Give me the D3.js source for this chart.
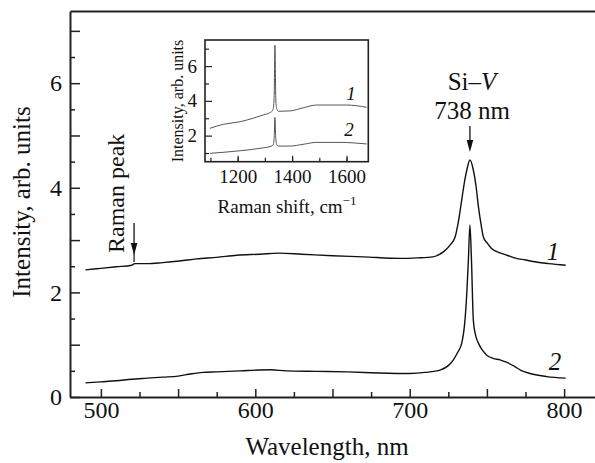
<!DOCTYPE html>
<html lang="en">
<head>
  <meta charset="UTF-8">
  <title>Si-V spectra</title>
  <script src="https://cdnjs.cloudflare.com/ajax/libs/d3/7.8.5/d3.min.js"></script>
  <style>
    body { margin: 0; background: #fff; }
    text { font-family: "Liberation Serif", "Times New Roman", serif; fill: #111; }
  </style>
</head>
<body>
  <script>
    // main spectra (PL)
    const wavelength1 = [490, 500, 510, 520, 522, 530, 540, 551, 562, 575, 588, 603, 615, 630, 650, 670, 694, 705, 715, 722, 726, 729.4, 731.5, 733.7, 735.5, 737, 739, 741.2, 743, 744.5, 746.2, 747.7, 750, 753, 758, 763, 769, 775, 780, 790, 801];
    const intensity1  = [2.43, 2.46, 2.49, 2.52, 2.55, 2.55, 2.57, 2.60, 2.64, 2.67, 2.71, 2.73, 2.75, 2.73, 2.70, 2.68, 2.65, 2.66, 2.68, 2.78, 2.90, 3.06, 3.35, 3.77, 4.12, 4.34, 4.53, 4.34, 4.02, 3.64, 3.30, 3.06, 2.95, 2.84, 2.76, 2.71, 2.65, 2.62, 2.59, 2.55, 2.52];

    const wavelength2 = [490, 500, 510, 520, 530, 540, 550, 558, 566, 575, 590, 610, 620, 640, 660, 680, 700, 710, 720, 725, 728.3, 731, 733.7, 735.8, 737, 738, 739, 740, 741.2, 742.5, 744.5, 747, 749.9, 754, 758.5, 763, 768.2, 772, 777.9, 788.7, 801];
    const intensity2  = [0.27, 0.29, 0.31, 0.34, 0.36, 0.38, 0.40, 0.44, 0.47, 0.48, 0.50, 0.52, 0.50, 0.49, 0.48, 0.46, 0.45, 0.47, 0.52, 0.60, 0.71, 0.85, 1.03, 1.47, 2.00, 2.62, 3.29, 2.62, 1.47, 1.20, 1.03, 0.90, 0.80, 0.74, 0.71, 0.66, 0.58, 0.51, 0.45, 0.39, 0.36];

    // inset (Raman)
    const ramanShift1 = [1098, 1147, 1209, 1257, 1294, 1319, 1327, 1331, 1334, 1337, 1340, 1343, 1350, 1392, 1441, 1490, 1539, 1600, 1674];
    const ramanInt1   = [2.42, 2.65, 2.80, 3.00, 3.19, 3.32, 3.42, 3.57, 4.20, 7.20, 4.20, 3.57, 3.40, 3.42, 3.60, 3.76, 3.76, 3.76, 3.63];
    const ramanShift2 = [1098, 1209, 1282, 1325, 1331, 1334.5, 1337, 1339.5, 1343, 1349, 1392, 1440, 1490, 1576, 1674];
    const ramanInt2   = [0.98, 1.13, 1.27, 1.40, 1.50, 2.00, 3.05, 2.00, 1.50, 1.40, 1.40, 1.50, 1.61, 1.61, 1.52];

    const xTicks = [500, 600, 700, 800];
    const yTicks = [0, 2, 4, 6];
    const insetXTicks = [1200, 1400, 1600];
    const insetYTicks = [2, 4, 6];

    const width = 595, height = 463;
    const svg = d3.select("body").append("svg")
      .attr("width", width)
      .attr("height", height);

    const x = d3.scaleLinear().domain([480, 820]).range([70, 595]);
    const y = d3.scaleLinear().domain([0, 7.38]).range([397, 11]);
    const fmt = d3.format("d");

    // main axes
    const gx = svg.append("g").attr("transform", "translate(0,397)");
    gx.call(d3.axisBottom(x).tickValues(d3.range(500, 821, 25).filter(v => v % 50)).tickSize(-5).tickSizeOuter(0).tickFormat(""));
    gx.call(g => g.select(".domain").remove());
    const gx2 = svg.append("g").attr("transform", "translate(0,397)");
    gx2.call(d3.axisBottom(x).tickValues(d3.range(500, 821, 50)).tickSize(-8).tickSizeOuter(0).tickPadding(4)
      .tickFormat(d => xTicks.includes(d) ? fmt(d) : ""));

    const gy = svg.append("g").attr("transform", "translate(70,0)");
    gy.call(d3.axisLeft(y).tickValues(d3.range(0.5, 7.4, 1)).tickSize(-5).tickSizeOuter(0).tickFormat(""));
    gy.call(g => g.select(".domain").remove());
    const gy2 = svg.append("g").attr("transform", "translate(70,0)");
    gy2.call(d3.axisLeft(y).tickValues(d3.range(0, 7.4, 1)).tickSize(-10).tickSizeOuter(0).tickPadding(8)
      .tickFormat(d => yTicks.includes(d) ? fmt(d) : ""));

    svg.append("g").attr("transform", "translate(0,11)")
      .call(d3.axisTop(x).tickValues([]).tickSizeOuter(0));

    svg.selectAll(".domain").attr("stroke", "#222").attr("stroke-width", 2);
    svg.selectAll(".tick line").attr("stroke", "#222").attr("stroke-width", 1.5);
    svg.selectAll(".tick text").attr("font-size", 24).attr("fill", "#111")
      .attr("font-family", "Liberation Serif, serif");

    // spectra
    const line = d3.line().x(d => x(d[0])).y(d => y(d[1])).curve(d3.curveMonotoneX);
    svg.append("path").datum(d3.zip(wavelength1, intensity1))
      .attr("d", line).attr("fill", "none").attr("stroke", "#111").attr("stroke-width", 1.4);
    svg.append("path").datum(d3.zip(wavelength2, intensity2))
      .attr("d", line).attr("fill", "none").attr("stroke", "#111").attr("stroke-width", 1.4);

    svg.append("text").attr("x", 553).attr("y", 260).attr("text-anchor", "middle")
      .attr("font-size", 25).attr("font-style", "italic").text("1");
    svg.append("text").attr("x", 555).attr("y", 370).attr("text-anchor", "middle")
      .attr("font-size", 25).attr("font-style", "italic").text("2");

    // axis titles
    svg.append("text").attr("x", 327).attr("y", 455).attr("text-anchor", "middle")
      .attr("font-size", 25).text("Wavelength, nm");
    svg.append("text").attr("transform", "translate(30,202) rotate(-90)").attr("text-anchor", "middle")
      .attr("font-size", 25).text("Intensity, arb. units");

    // annotations
    function arrow(xp, y0, y1) {
      svg.append("line").attr("x1", xp).attr("x2", xp).attr("y1", y0).attr("y2", y1 - 6)
        .attr("stroke", "#111").attr("stroke-width", 1.3);
      svg.append("path").attr("d", `M${xp},${y1} L${xp - 3.3},${y1 - 12} L${xp + 3.3},${y1 - 12} Z`)
        .attr("fill", "#111");
    }
    arrow(x(739), 126, 152);
    arrow(x(521.5), 223, 255);
    svg.append("line").attr("x1", x(521.5)).attr("x2", x(521.5)).attr("y1", 252).attr("y2", 262)
      .attr("stroke", "#111").attr("stroke-width", 1.2);

    const sv = svg.append("text").attr("x", 472).attr("y", 90).attr("text-anchor", "middle").attr("font-size", 25);
    sv.append("tspan").text("Si–");
    sv.append("tspan").attr("font-style", "italic").text("V");
    svg.append("text").attr("x", 472).attr("y", 119).attr("text-anchor", "middle")
      .attr("font-size", 25).text("738 nm");
    svg.append("text").attr("transform", "translate(124,253) rotate(-90)")
      .attr("font-size", 24).text("Raman peak");

    // inset
    const ix = d3.scaleLinear().domain([1080, 1680]).range([205, 368.3]);
    const iy = d3.scaleLinear().domain([0.5, 7.5]).range([161.7, 40]);
    const inset = svg.append("g");
    inset.append("rect").attr("x", 205).attr("y", 40).attr("width", 163.3).attr("height", 121.7)
      .attr("fill", "#fff").attr("stroke", "#222").attr("stroke-width", 1.6);

    const ixg = inset.append("g").attr("transform", "translate(0,161.7)");
    ixg.call(d3.axisBottom(ix).tickValues(d3.range(1100, 1700, 100)).tickSize(-4).tickSizeOuter(0).tickFormat(""));
    ixg.call(g => g.select(".domain").remove());
    const ixg2 = inset.append("g").attr("transform", "translate(0,161.7)");
    ixg2.call(d3.axisBottom(ix).tickValues(insetXTicks).tickSize(-6).tickSizeOuter(0).tickPadding(8).tickFormat(fmt));
    ixg2.call(g => g.select(".domain").remove());

    const iyg = inset.append("g").attr("transform", "translate(205,0)");
    iyg.call(d3.axisLeft(iy).tickValues([1, 3, 5, 7]).tickSize(-4).tickSizeOuter(0).tickFormat(""));
    iyg.call(g => g.select(".domain").remove());
    const iyg2 = inset.append("g").attr("transform", "translate(205,0)");
    iyg2.call(d3.axisLeft(iy).tickValues(insetYTicks).tickSize(-7).tickSizeOuter(0).tickPadding(8).tickFormat(fmt));
    iyg2.call(g => g.select(".domain").remove());

    inset.selectAll(".tick line").attr("stroke", "#222").attr("stroke-width", 1.2);
    inset.selectAll(".tick text").attr("font-size", 19).attr("fill", "#111")
      .attr("font-family", "Liberation Serif, serif");

    const iline = d3.line().x(d => ix(d[0])).y(d => iy(d[1])).curve(d3.curveMonotoneX);
    inset.append("path").datum(d3.zip(ramanShift1, ramanInt1))
      .attr("d", iline).attr("fill", "none").attr("stroke", "#555").attr("stroke-width", 1);
    inset.append("path").datum(d3.zip(ramanShift2, ramanInt2))
      .attr("d", iline).attr("fill", "none").attr("stroke", "#555").attr("stroke-width", 1);

    inset.append("text").attr("x", 351).attr("y", 100).attr("text-anchor", "middle")
      .attr("font-size", 19).attr("font-style", "italic").text("1");
    inset.append("text").attr("x", 349).attr("y", 136).attr("text-anchor", "middle")
      .attr("font-size", 19).attr("font-style", "italic").text("2");

    const rs = inset.append("text").attr("x", 287).attr("y", 213).attr("text-anchor", "middle").attr("font-size", 19);
    rs.append("tspan").text("Raman shift, cm");
    rs.append("tspan").attr("font-size", 13).attr("dy", -8).text("−1");
    inset.append("text").attr("transform", "translate(183,101) rotate(-90)").attr("text-anchor", "middle")
      .attr("font-size", 16).text("Intensity, arb. units");
  </script>
</body>
</html>
